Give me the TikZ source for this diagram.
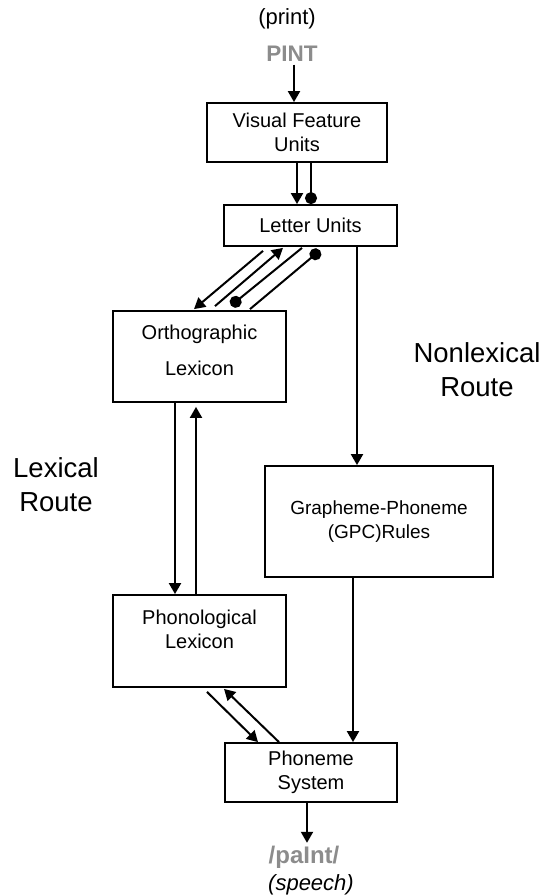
\documentclass[tikz,border=0pt]{standalone}
\usepackage{fontspec}
\setmainfont{Liberation Sans}
\usepackage{xcolor}
\usetikzlibrary{arrows.meta}
\definecolor{wordgray}{RGB}{140,140,140}

\begin{document}
\begin{tikzpicture}[x=1pt,y=-1pt,line width=2pt,
  box/.style={draw,line width=1.8pt,rectangle,inner sep=0pt,align=center,font=\fontsize{20}{24}\selectfont},
  word/.style={inner sep=2pt,align=center},
  route/.style={inner sep=0pt,align=center,font=\fontsize{27.5}{34}\selectfont},
  arr/.style={-{Triangle[length=11pt,width=12pt]}},
  dotl/.style={-{Circle[length=12pt]}}]
\useasboundingbox (0,0) rectangle (543,895);
\node[word,font=\fontsize{22}{26}\selectfont] (print) at (287,19) {(print)};
\node[word,font=\fontsize{22.5}{26}\selectfont\bfseries,text=wordgray] (pint) at (292,54) {PINT};
\node[box,minimum width=180,minimum height=59] (vfu) at (297,132.5) {Visual Feature\\Units};
\node[box,minimum width=173,minimum height=41] (lu) at (310.5,225.5) {Letter Units};
\node[box,minimum width=173,minimum height=91,text depth=13pt] (ol) at (199.5,356.5) {Orthographic\\[12pt]Lexicon};
\node[box,minimum width=228,minimum height=111,font=\fontsize{19}{24}\selectfont] (gpc) at (379,521.5) {Grapheme-Phoneme\\(GPC)Rules};
\node[box,minimum width=173,minimum height=92,text depth=24pt] (pl) at (199.5,641) {Phonological\\Lexicon};
\node[box,minimum width=172,minimum height=59] (ps) at (311,772.5) {Phoneme\\System};
\node[word,font=\fontsize{24}{28}\selectfont\bfseries,text=wordgray] (paint) at (304,857) {/paInt/};
\node[word,font=\fontsize{22}{26}\selectfont\itshape] (speech) at (311,885) {(speech)};
\node[route] (lex) at (56,485) {Lexical\\Route};
\node[route] (nonlex) at (477,370) {Nonlexical\\Route};

\draw[arr] ([shift={(2,0)}]pint.south) -- ([shift={(-3,0)}]vfu.north);
\draw[arr] (vfu.south) -- ([shift={(-13.5,0)}]lu.north);
\draw[dotl] ([shift={(14,0)}]vfu.south) -- ([shift={(0.5,0)}]lu.north);
\draw[arr] ([shift={(-47.5,4)}]lu.south) -- ([shift={(-5.5,-1)}]ol.north);
\draw[arr] ([shift={(15.5,-4)}]ol.north) -- ([shift={(-27.5,1)}]lu.south);
\draw[dotl] ([shift={(-8.5,1)}]lu.south) -- ([shift={(31.5,-4.5)}]ol.north);
\draw[dotl] ([shift={(50.5,-1)}]ol.north) -- ([shift={(9.5,3.5)}]lu.south);
\draw[arr] ([shift={(46.5,0)}]lu.south) -- ([shift={(-22,0)}]gpc.north);
\draw[arr] ([shift={(-24.5,0)}]ol.south) -- ([shift={(-24.5,0)}]pl.north);
\draw[arr] ([shift={(-3.5,0)}]pl.north) -- ([shift={(-3.5,4)}]ol.south);
\draw[arr] ([shift={(-26,0)}]gpc.south) -- ([shift={(42,0)}]ps.north);
\draw[arr] ([shift={(7.5,4)}]pl.south) -- ([shift={(-53,0)}]ps.north);
\draw[arr] ([shift={(-32,0)}]ps.north) -- ([shift={(24.5,1)}]pl.south);
\draw[arr] ([shift={(-4,0)}]ps.south) -- ([shift={(3,0)}]paint.north);
\end{tikzpicture}
\end{document}
